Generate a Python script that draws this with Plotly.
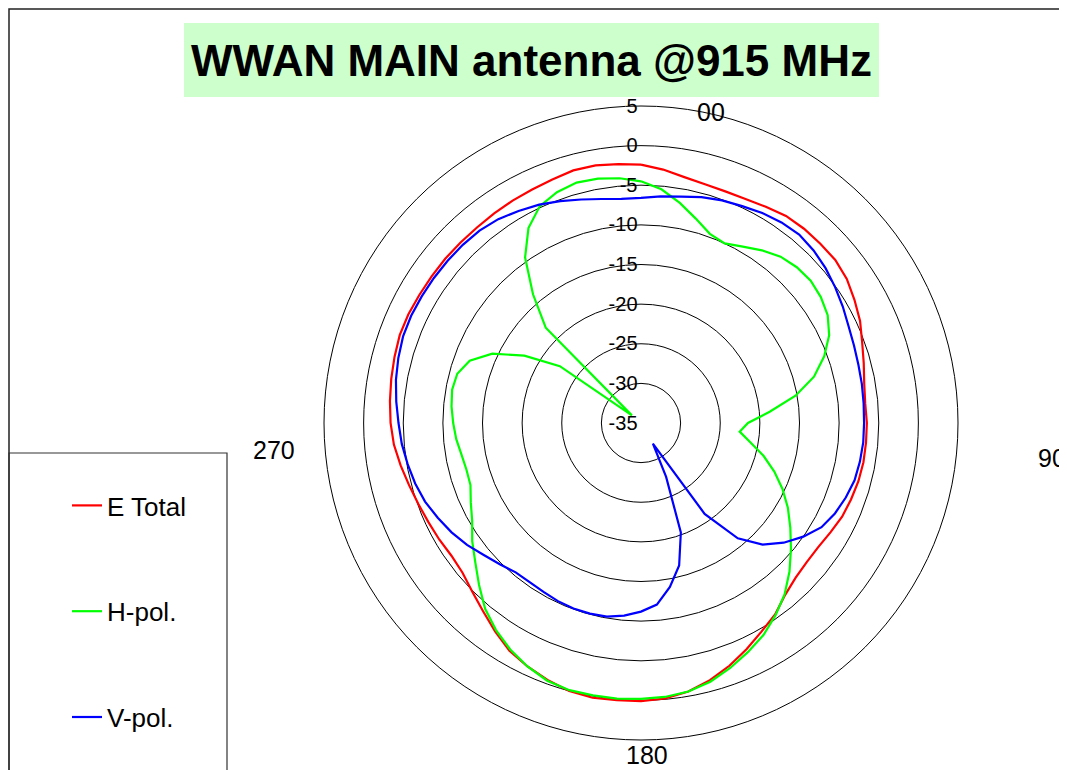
import plotly.graph_objects as go

# angles in degrees, 0 at top, clockwise
angles = list(range(0, 360, 5))

e_total = [-2.4, -2.9, -3.5, -3.8, -3.9, -3.8, -3.5, -3.1, -3.0, -3.0, -3.0, -3.3,
           -3.9, -4.5, -5.3, -5.9, -6.4, -6.6, -6.5, -6.5, -6.5, -6.6, -6.8, -7.0,
           -7.4, -7.7, -7.7, -7.4, -6.7, -5.5, -4.6, -3.5, -2.4, -1.4, -0.6, -0.1,
           0.1, 0.1, 0.2, 0.0, -0.5, -1.1, -1.8, -2.9, -4.0, -4.9, -5.6, -5.8,
           -5.6, -5.4, -5.1, -4.7, -4.2, -3.7, -3.4, -3.2, -3.0, -2.8, -2.6, -2.6,
           -2.7, -2.75, -2.75, -2.8, -2.8, -2.7, -2.6, -2.5, -2.3, -2.0, -2.0, -2.2]

h_pol = [-4.5, -5.4, -6.8, -8.3, -9.6, -10.0, -9.3, -8.4, -7.6, -7.2, -7.05, -7.3,
         -7.8, -8.8, -10.4, -12.4, -15.2, -18.7, -21.5, -22.5, -21.0, -19.0, -17.1, -15.3,
         -13.6, -12.0, -10.3, -8.5, -6.8, -5.4, -4.1, -3.1, -2.1, -1.2, -0.6, -0.3,
         -0.2, -0.1, -0.1, -0.1, -0.4, -1.1, -2.0, -3.1, -4.4, -6.1, -7.7, -9.0,
         -10.4, -11.3, -12.1, -12.2, -12.0, -11.6, -11.3, -11.0, -10.8, -11.0, -12.0, -14.3,
         -18.0, -22.5, -33.5, -18.0, -13.8, -9.5, -6.6, -4.8, -4.0, -3.6, -3.7, -4.0]

v_pol = [-6.6, -6.3, -6.0, -5.5, -5.1, -4.8, -4.4, -4.1, -3.95, -4.2, -4.6, -5.1,
         -5.6, -6.1, -6.4, -6.6, -6.7, -6.8, -6.85, -6.85, -6.95, -7.1, -7.5, -8.0,
         -8.7, -10.0, -11.5, -13.3, -16.0, -21.0, -32.0, -27.5, -20.3, -16.4, -14.0, -12.0,
         -11.2, -10.6, -10.2, -10.1, -10.1, -10.2, -10.4, -10.5, -10.4, -9.8, -9.1, -8.2,
         -7.4, -6.7, -6.0, -5.5, -5.1, -4.7, -4.4, -4.0, -3.6, -3.3, -3.05, -3.0,
         -3.05, -3.1, -3.15, -3.2, -3.3, -3.6, -4.1, -4.6, -5.2, -5.8, -6.3, -6.6]

series_names = ["E Total", "H-pol.", "V-pol."]
series_colors = ["#ff0000", "#00ff00", "#0000ff"]

r_ticks = [-35, -30, -25, -20, -15, -10, -5, 0, 5]
r_tick_labels = ["-35", "-30", "-25", "-20", "-15", "-10", "-5", "0", "5"]
angle_labels = ["00", "90", "180", "270"]

# the page body has an 8px margin, so the figure is drawn 8px in from the corner
OFF = 8
W, H = 1067 - OFF, 770 - OFF
FONT = "Liberation Sans, Arial, sans-serif"


def px(x, y):
    # page pixel -> paper coordinates
    return (x - OFF) / W, 1 - (y - OFF) / H


fig = go.Figure()
for name, vals, col in zip(series_names, [e_total, h_pol, v_pol], series_colors):
    fig.add_trace(go.Scatterpolar(
        r=vals + vals[:1],
        theta=angles + angles[:1],
        mode="lines",
        name=name,
        legendgroup=name,
        line=dict(color=col, width=2.2),
    ))

# angular labels placed like the original sheet
label_pos = {"00": (711, 112), "90": (1052, 458), "180": (647, 755), "270": (274, 450)}
annotations = []
for lab in angle_labels:
    x, y = px(*label_pos[lab])
    annotations.append(dict(x=x, y=y, xref="paper", yref="paper", text=lab,
                            showarrow=False, xanchor="center", yanchor="middle",
                            font=dict(family=FONT, size=25, color="black")))

tx, ty = px(531, 60)
annotations.append(dict(x=tx, y=ty, xref="paper", yref="paper",
                        text="<b>WWAN MAIN antenna @915 MHz</b>", showarrow=False,
                        xanchor="center", yanchor="middle",
                        font=dict(family=FONT, size=44, color="black")))

bx0, by1 = px(184, 23)
bx1, by0 = px(879, 97)
fx0, fy1 = px(9, 9)
fx1, _ = px(1061, 9)
lx1, ly1 = px(227, 453)
shapes = [
    # title background
    dict(type="rect", xref="paper", yref="paper", layer="below",
         x0=bx0, x1=bx1, y0=by0, y1=by1,
         fillcolor="#ccffcc", line=dict(width=0)),
    # chart frame
    dict(type="rect", xref="paper", yref="paper",
         x0=fx0, x1=fx1, y0=-0.05, y1=fy1,
         line=dict(color="#222222", width=1.5)),
    # legend frame
    dict(type="rect", xref="paper", yref="paper",
         x0=fx0, x1=lx1, y0=-0.05, y1=ly1,
         line=dict(color="#333333", width=1.2)),
]

dx0, dy1 = px(324, 106)
dx1, dy0 = px(958, 740)
legx, legy = px(67, 482)

fig.update_layout(
    width=W, height=H,
    margin=dict(l=0, r=0, t=0, b=0),
    paper_bgcolor="white",
    font=dict(family=FONT, color="black"),
    polar=dict(
        domain=dict(x=[dx0, dx1], y=[dy0, dy1]),
        bgcolor="white",
        radialaxis=dict(range=[-35, 5], tickvals=r_ticks, ticktext=r_tick_labels,
                        angle=90, tickangle=90,
                        side="counterclockwise", ticksuffix="\u00a0\u00a0\u00a0",
                        showline=False, ticks="", gridcolor="black", gridwidth=1,
                        tickfont=dict(family=FONT, size=20, color="black")),
        angularaxis=dict(direction="clockwise", rotation=90, showgrid=False,
                         showticklabels=False, ticks="", showline=True,
                         linecolor="black", linewidth=1),
    ),
    legend=dict(x=legx, y=legy, xanchor="left", yanchor="top",
                bgcolor="rgba(0,0,0,0)", tracegroupgap=69,
                font=dict(family=FONT, size=26, color="black")),
    annotations=annotations,
    shapes=shapes,
)

fig.write_html("out.html")
